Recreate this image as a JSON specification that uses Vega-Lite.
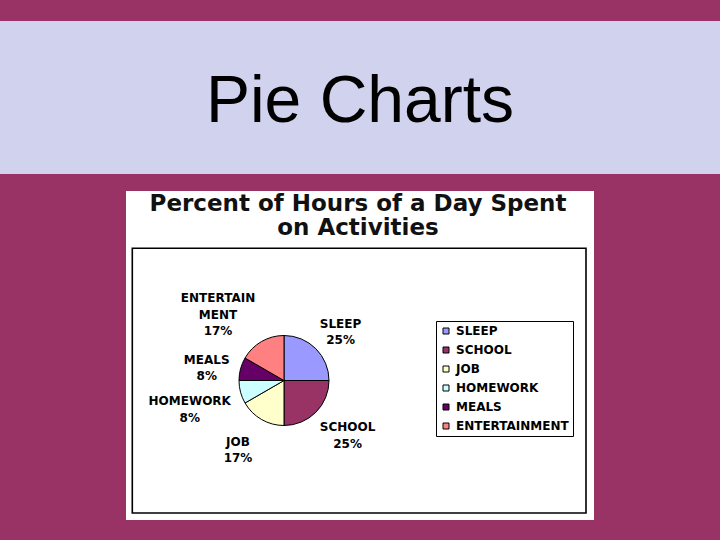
{
  "$schema": "https://vega.github.io/schema/vega-lite/v6.json",
  "padding": {"top": 21, "bottom": 20, "left": 0, "right": 0},
  "spacing": 17,
  "center": true,
  "vconcat": [
    {
      "width": 720,
      "height": 153,
      "view": {"fill": "#D0D2EE", "stroke": null},
      "data": {"values": [{"slide": "Pie Charts"}]},
      "mark": {
        "type": "text",
        "font": "Liberation Sans",
        "fontSize": 66,
        "color": "black",
        "baseline": "alphabetic",
        "dy": 24
      },
      "encoding": {"text": {"field": "slide"}}
    },
    {
      "width": 468,
      "height": 329,
      "view": {"fill": "white", "stroke": null},
      "data": {
        "values": [
          {"activity": "SLEEP", "hours": 6, "pct": 25, "label": "SLEEP"},
          {"activity": "SCHOOL", "hours": 6, "pct": 25, "label": "SCHOOL"},
          {"activity": "JOB", "hours": 4, "pct": 17, "label": "JOB"},
          {"activity": "HOMEWORK", "hours": 2, "pct": 8, "label": "HOMEWORK"},
          {"activity": "MEALS", "hours": 2, "pct": 8, "label": "MEALS"},
          {"activity": "ENTERTAINMENT", "hours": 4, "pct": 17, "label": "ENTERTAIN\nMENT"}
        ]
      },
      "transform": [
        {"window": [{"op": "row_number", "as": "idx"}]},
        {"calculate": "datum.label + '\\n' + datum.pct + '%'", "as": "txt"}
      ],
      "layer": [
        {
          "data": {"values": [{"box": "plot area"}]},
          "mark": {"type": "rect", "filled": false, "stroke": "black", "strokeWidth": 1.6},
          "encoding": {
            "x": {"datum": 6.3, "type": "quantitative", "axis": null,
                  "scale": {"domain": [0, 468], "nice": false, "zero": false}},
            "x2": {"datum": 460},
            "y": {"datum": 57.3, "type": "quantitative", "axis": null,
                  "scale": {"domain": [0, 329], "nice": false, "zero": false, "reverse": true}},
            "y2": {"datum": 322}
          }
        },
        {
          "data": {"values": [{"title": "Percent of Hours of a Day Spent\non Activities"}]},
          "mark": {
            "type": "text",
            "font": "DejaVu Sans",
            "fontWeight": "bold",
            "fontSize": 23,
            "lineHeight": 23.5,
            "lineBreak": "\n",
            "color": "#111111",
            "baseline": "alphabetic",
            "dx": -2
          },
          "encoding": {
            "y": {"datum": 20, "type": "quantitative", "axis": null},
            "text": {"field": "title"}
          }
        },
        {
          "mark": {"type": "arc", "radius": 45, "stroke": "black", "strokeWidth": 1},
          "encoding": {
            "x": {"datum": 158, "type": "quantitative", "axis": null},
            "y": {"datum": 189.5, "type": "quantitative", "axis": null},
            "theta": {"field": "hours", "type": "quantitative", "stack": true},
            "order": {"field": "idx", "type": "quantitative"},
            "color": {
              "field": "activity",
              "type": "nominal",
              "scale": {
                "domain": ["SLEEP", "SCHOOL", "JOB", "HOMEWORK", "MEALS", "ENTERTAINMENT"],
                "range": ["#9999FF", "#993366", "#FFFFCC", "#CCFFFF", "#660066", "#FF8080"]
              },
              "legend": {
                "orient": "none",
                "legendX": 436,
                "legendY": 300,
                "title": null,
                "symbolType": "square",
                "symbolSize": 36,
                "symbolStrokeColor": "black",
                "symbolStrokeWidth": 1,
                "labelFont": "DejaVu Sans",
                "labelFontWeight": "bold",
                "labelFontSize": 12,
                "labelColor": "black",
                "labelOffset": 4,
                "rowPadding": 7,
                "padding": 4,
                "strokeColor": "black",
                "fillColor": "white"
              }
            }
          }
        },
        {
          "mark": {
            "type": "text", "font": "DejaVu Sans", "fontWeight": "bold", "fontSize": 12,
            "lineHeight": 16.5, "lineBreak": "\n", "color": "black", "baseline": "middle"
          },
          "encoding": {
            "x": {"datum": 158, "type": "quantitative", "axis": null},
            "y": {"datum": 189.5, "type": "quantitative", "axis": null},
            "theta": {"field": "hours", "type": "quantitative", "stack": true},
            "order": {"field": "idx", "type": "quantitative"},
            "detail": {"field": "activity"},
            "radius": {"value": 80},
            "text": {
              "condition": {"test": "datum.activity !== 'SLEEP' && datum.activity !== 'MEALS'", "value": ""},
              "field": "txt"
            }
          }
        },
        {
          "mark": {
            "type": "text", "font": "DejaVu Sans", "fontWeight": "bold", "fontSize": 12,
            "lineHeight": 16.5, "lineBreak": "\n", "color": "black", "baseline": "middle",
            "dx": 7, "dy": -10
          },
          "encoding": {
            "x": {"datum": 158, "type": "quantitative", "axis": null},
            "y": {"datum": 189.5, "type": "quantitative", "axis": null},
            "theta": {"field": "hours", "type": "quantitative", "stack": true},
            "order": {"field": "idx", "type": "quantitative"},
            "detail": {"field": "activity"},
            "radius": {"value": 80},
            "text": {
              "condition": {"test": "datum.activity !== 'SCHOOL'", "value": ""},
              "field": "txt"
            }
          }
        },
        {
          "mark": {
            "type": "text", "font": "DejaVu Sans", "fontWeight": "bold", "fontSize": 12,
            "lineHeight": 16.5, "lineBreak": "\n", "color": "black", "baseline": "middle",
            "dx": -6, "dy": -8
          },
          "encoding": {
            "x": {"datum": 158, "type": "quantitative", "axis": null},
            "y": {"datum": 189.5, "type": "quantitative", "axis": null},
            "theta": {"field": "hours", "type": "quantitative", "stack": true},
            "order": {"field": "idx", "type": "quantitative"},
            "detail": {"field": "activity"},
            "radius": {"value": 80},
            "text": {
              "condition": {"test": "datum.activity !== 'JOB'", "value": ""},
              "field": "txt"
            }
          }
        },
        {
          "mark": {
            "type": "text", "font": "DejaVu Sans", "fontWeight": "bold", "fontSize": 12,
            "lineHeight": 16.5, "lineBreak": "\n", "color": "black", "baseline": "middle",
            "dx": -17, "dy": 0
          },
          "encoding": {
            "x": {"datum": 158, "type": "quantitative", "axis": null},
            "y": {"datum": 189.5, "type": "quantitative", "axis": null},
            "theta": {"field": "hours", "type": "quantitative", "stack": true},
            "order": {"field": "idx", "type": "quantitative"},
            "detail": {"field": "activity"},
            "radius": {"value": 80},
            "text": {
              "condition": {"test": "datum.activity !== 'HOMEWORK'", "value": ""},
              "field": "txt"
            }
          }
        },
        {
          "mark": {
            "type": "text", "font": "DejaVu Sans", "fontWeight": "bold", "fontSize": 12,
            "lineHeight": 16.5, "lineBreak": "\n", "color": "black", "baseline": "middle",
            "dx": -26, "dy": -13
          },
          "encoding": {
            "x": {"datum": 158, "type": "quantitative", "axis": null},
            "y": {"datum": 189.5, "type": "quantitative", "axis": null},
            "theta": {"field": "hours", "type": "quantitative", "stack": true},
            "order": {"field": "idx", "type": "quantitative"},
            "detail": {"field": "activity"},
            "radius": {"value": 80},
            "text": {
              "condition": {"test": "datum.activity !== 'ENTERTAINMENT'", "value": ""},
              "field": "txt"
            }
          }
        }
      ]
    }
  ],
  "config": {
    "background": "#993366",
    "view": {"stroke": null}
  }
}
